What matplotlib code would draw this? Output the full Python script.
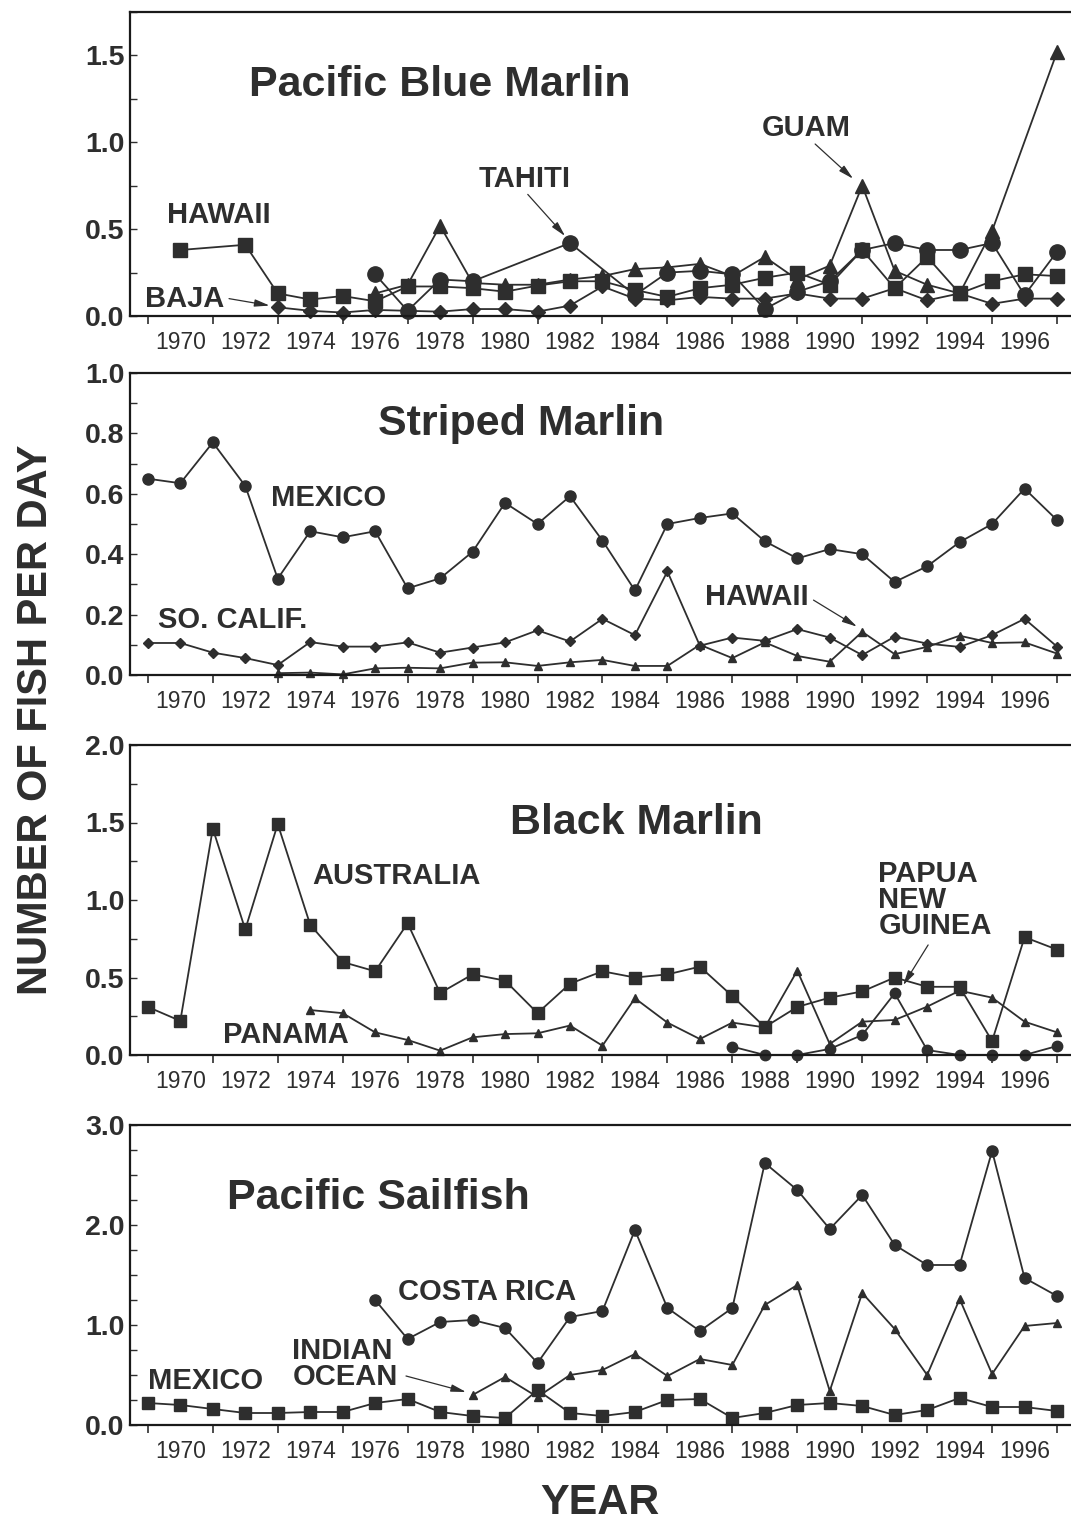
import numpy as np
import matplotlib
matplotlib.use('Agg')
import matplotlib.pyplot as plt
from matplotlib.ticker import MultipleLocator

plt.rcParams['font.family'] = ['Liberation Sans', 'DejaVu Sans']

INK = '#2e2e2e'

# ---- Pacific Blue Marlin ----
bm_hawaii_yr = [1970, 1972, 1973, 1974, 1975, 1976, 1977, 1978, 1979, 1980, 1981, 1982, 1983,
                1984, 1985, 1986, 1987, 1988, 1989, 1990, 1991, 1992, 1993, 1994, 1995, 1996, 1997]
bm_hawaii = [0.38, 0.41, 0.13, 0.095, 0.115, 0.085, 0.17, 0.17, 0.16, 0.14, 0.175, 0.2, 0.2,
             0.15, 0.11, 0.16, 0.18, 0.22, 0.25, 0.18, 0.38, 0.16, 0.34, 0.13, 0.2, 0.24, 0.23]
bm_tahiti_yr = [1976, 1977, 1978, 1979, 1982, 1984, 1985, 1986, 1987, 1988, 1989, 1990,
                1991, 1992, 1993, 1994, 1995, 1996, 1997]
bm_tahiti = [0.24, 0.03, 0.21, 0.2, 0.42, 0.12, 0.25, 0.26, 0.24, 0.04, 0.14, 0.2,
             0.38, 0.42, 0.38, 0.38, 0.42, 0.12, 0.37]
bm_guam_yr = [1976, 1977, 1978, 1979, 1980, 1981, 1982, 1983, 1984, 1985, 1986, 1987, 1988,
              1989, 1990, 1991, 1992, 1993, 1994, 1995, 1997]
bm_guam = [0.13, 0.18, 0.52, 0.19, 0.18, 0.18, 0.21, 0.23, 0.27, 0.28, 0.3, 0.23, 0.34,
           0.21, 0.29, 0.75, 0.26, 0.18, 0.13, 0.49, 1.52]
bm_baja_yr = list(range(1973, 1998))
bm_baja = [0.05, 0.03, 0.02, 0.035, 0.03, 0.025, 0.04, 0.04, 0.025, 0.06, 0.17, 0.1, 0.09,
           0.11, 0.1, 0.1, 0.13, 0.1, 0.1, 0.16, 0.09, 0.13, 0.07, 0.1, 0.1]

# ---- Striped Marlin ----
sm_mexico_yr = list(range(1969, 1998))
sm_mexico = [0.65, 0.635, 0.77, 0.626, 0.319, 0.476, 0.456, 0.476, 0.287, 0.32, 0.408, 0.57,
             0.5, 0.592, 0.445, 0.28, 0.5, 0.52, 0.535, 0.443, 0.386, 0.417, 0.4, 0.308,
             0.36, 0.44, 0.5, 0.617, 0.513]
sm_socal_yr = list(range(1969, 1998))
sm_socal = [0.106, 0.106, 0.074, 0.056, 0.033, 0.109, 0.094, 0.094, 0.108, 0.074, 0.091, 0.108,
            0.148, 0.111, 0.186, 0.132, 0.343, 0.097, 0.124, 0.113, 0.152, 0.124, 0.066, 0.127,
            0.104, 0.093, 0.132, 0.186, 0.094]
sm_hawaii_yr = list(range(1973, 1998))
sm_hawaii = [0.006, 0.008, 0.002, 0.022, 0.024, 0.022, 0.041, 0.042, 0.03, 0.042, 0.05, 0.03,
             0.03, 0.1, 0.056, 0.108, 0.063, 0.044, 0.143, 0.069, 0.093, 0.13, 0.106, 0.108, 0.071]

# ---- Black Marlin ----
bk_austr_yr = list(range(1969, 1998))
bk_austr = [0.31, 0.22, 1.46, 0.81, 1.49, 0.84, 0.6, 0.54, 0.85, 0.4, 0.52, 0.48, 0.27, 0.46,
            0.54, 0.5, 0.52, 0.57, 0.38, 0.18, 0.31, 0.37, 0.41, 0.5, 0.44, 0.44, 0.09, 0.76, 0.68]
bk_panama_yr = list(range(1974, 1998))
bk_panama = [0.29, 0.27, 0.146, 0.097, 0.028, 0.114, 0.135, 0.14, 0.19, 0.06, 0.366, 0.209,
             0.103, 0.209, 0.178, 0.544, 0.071, 0.215, 0.226, 0.312, 0.415, 0.37, 0.215, 0.146]
bk_png_yr = list(range(1987, 1998))
bk_png = [0.054, 0.0, 0.0, 0.039, 0.129, 0.398, 0.032, 0.0, 0.0, 0.0, 0.058]

# ---- Pacific Sailfish ----
sf_costa_yr = list(range(1976, 1998))
sf_costa = [1.25, 0.86, 1.03, 1.05, 0.97, 0.62, 1.08, 1.14, 1.95, 1.17, 0.94, 1.17, 2.62,
            2.35, 1.96, 2.3, 1.8, 1.6, 1.6, 2.74, 1.47, 1.29]
sf_indian_yr = list(range(1979, 1998))
sf_indian = [0.3, 0.48, 0.28, 0.5, 0.55, 0.71, 0.49, 0.66, 0.6, 1.2, 1.4, 0.34, 1.32,
             0.96, 0.5, 1.26, 0.51, 0.99, 1.02]
sf_mexico_yr = list(range(1969, 1998))
sf_mexico = [0.22, 0.2, 0.16, 0.12, 0.12, 0.13, 0.13, 0.22, 0.26, 0.13, 0.09, 0.07, 0.35, 0.12,
             0.09, 0.13, 0.25, 0.26, 0.07, 0.12, 0.2, 0.22, 0.19, 0.1, 0.15, 0.27, 0.18, 0.18, 0.14]

fig = plt.figure(figsize=(10.71, 15.22), dpi=100)
W, H = 1071, 1522


def make_axes(top, bottom, ymax, major, minor):
    ax = fig.add_axes([130 / W, 1 - bottom / H, 1 - 130 / W, (bottom - top) / H])
    ax.set_xlim(1968.45, 1997.43)
    ax.set_ylim(0, ymax)
    ax.spines['right'].set_visible(False)
    for s in ['left', 'bottom', 'top']:
        ax.spines[s].set_linewidth(1.6)
        ax.spines[s].set_color('#1a1a1a')
    ax.set_xticks(range(1969, 1998, 2))
    ax.set_xticklabels([])
    ax.set_xticks(range(1970, 1997, 2), minor=True)
    ax.set_xticklabels([str(y) for y in range(1970, 1997, 2)], minor=True)
    ax.tick_params(axis='x', which='major', direction='out', length=6, width=1.2, color=INK)
    ax.tick_params(axis='x', which='minor', length=0, pad=11, labelsize=16.5, labelcolor=INK)
    ax.yaxis.set_major_locator(MultipleLocator(major))
    ax.yaxis.set_minor_locator(MultipleLocator(minor))
    ax.yaxis.set_major_formatter('{x:.1f}')
    ax.tick_params(axis='y', which='both', direction='in', length=5, width=1.0, color=INK,
                   pad=4, labelsize=20.5, labelcolor=INK)
    for t in ax.get_yticklabels():
        t.set_fontweight('bold')
    return ax


def series(ax, yr, vals, marker, ms):
    ax.plot(yr, vals, color=INK, lw=1.3, marker=marker, ms=ms, mfc=INK, mec=INK, clip_on=False)


def label(ax, x, y, s, size=21, **kw):
    ax.text(x, y, s, fontsize=size, fontweight='bold', color=INK, ha='left', va='center', **kw)


def arrow(ax, start, tip):
    ax.annotate('', xy=tip, xytext=start,
                arrowprops=dict(arrowstyle='-|>,head_length=0.9,head_width=0.22',
                                lw=0.9, color=INK, shrinkA=0, shrinkB=0))


# panel 1
ax1 = make_axes(12, 316, 1.75, 0.5, 0.25)
series(ax1, bm_hawaii_yr, bm_hawaii, 's', 9.5)
series(ax1, bm_tahiti_yr, bm_tahiti, 'o', 11)
series(ax1, bm_guam_yr, bm_guam, '^', 10)
series(ax1, bm_baja_yr, bm_baja, 'D', 7)
label(ax1, 1972.1, 1.33, 'Pacific Blue Marlin', size=31)
label(ax1, 1969.6, 0.58, 'HAWAII')
label(ax1, 1968.9, 0.10, 'BAJA')
label(ax1, 1979.2, 0.79, 'TAHITI')
label(ax1, 1987.9, 1.08, 'GUAM')
arrow(ax1, (1971.5, 0.10), (1972.75, 0.06))
arrow(ax1, (1980.7, 0.70), (1981.85, 0.46))
arrow(ax1, (1989.55, 0.99), (1990.72, 0.79))

# panel 2
ax2 = make_axes(373, 675, 1.0, 0.2, 0.1)
series(ax2, sm_mexico_yr, sm_mexico, 'o', 8)
series(ax2, sm_socal_yr, sm_socal, 'D', 5)
series(ax2, sm_hawaii_yr, sm_hawaii, '^', 5.5)
label(ax2, 1976.1, 0.83, 'Striped Marlin', size=31)
label(ax2, 1972.8, 0.586, 'MEXICO')
label(ax2, 1969.3, 0.182, 'SO. CALIF.')
label(ax2, 1986.15, 0.258, 'HAWAII')
arrow(ax2, (1989.5, 0.248), (1990.84, 0.16))

# panel 3
ax3 = make_axes(745, 1055, 2.0, 0.5, 0.25)
series(ax3, bk_austr_yr, bk_austr, 's', 8)
series(ax3, bk_panama_yr, bk_panama, '^', 5.5)
series(ax3, bk_png_yr, bk_png, 'o', 7.5)
label(ax3, 1980.15, 1.50, 'Black Marlin', size=31)
label(ax3, 1974.05, 1.155, 'AUSTRALIA')
label(ax3, 1971.3, 0.129, 'PANAMA')
label(ax3, 1991.5, 1.0, 'PAPUA\nNEW\nGUINEA', linespacing=0.92)
arrow(ax3, (1993.03, 0.71), (1992.26, 0.45))

# panel 4
ax4 = make_axes(1125, 1425, 3.0, 1.0, 0.25)
series(ax4, sf_costa_yr, sf_costa, 'o', 8)
series(ax4, sf_indian_yr, sf_indian, '^', 6)
series(ax4, sf_mexico_yr, sf_mexico, 's', 8)
label(ax4, 1971.45, 2.27, 'Pacific Sailfish', size=31)
label(ax4, 1976.7, 1.33, 'COSTA RICA')
label(ax4, 1973.45, 0.61, 'INDIAN\nOCEAN', linespacing=0.92)
label(ax4, 1969.0, 0.44, 'MEXICO')
arrow(ax4, (1976.95, 0.49), (1978.8, 0.33))

fig.text(36 / W, 1 - 720 / H, 'NUMBER OF FISH PER DAY', rotation=90, fontsize=30,
         fontweight='bold', color=INK, ha='center', va='center')
fig.text(600 / W, 1 - 1503 / H, 'YEAR', fontsize=31, fontweight='bold', color=INK,
         ha='center', va='center')

fig.savefig('out.png', dpi=100, facecolor='white')
